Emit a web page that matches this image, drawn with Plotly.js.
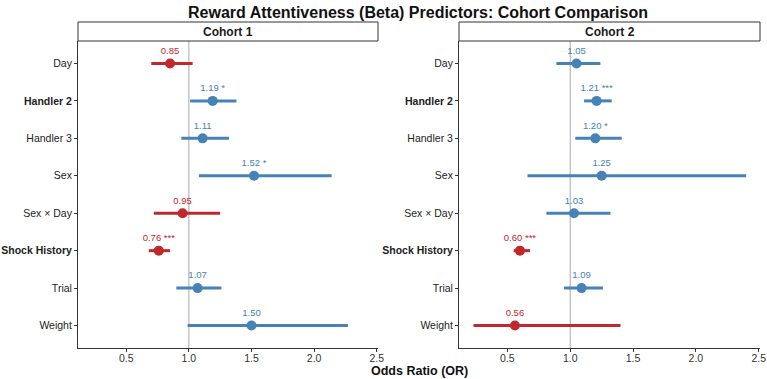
<!DOCTYPE html>
<html>
<head>
<meta charset="utf-8">
<script src="https://cdn.plot.ly/plotly-3.0.1.min.js"></script>
<style>html,body{margin:0;padding:0;background:#fff;}#chart{width:767px;height:379px;}</style>
</head>
<body>
<div id="chart"></div>
<script>
const terms = ['Day', 'Handler 2', 'Handler 3', 'Sex', 'Sex × Day', 'Shock History', 'Trial', 'Weight'];
const boldTerms = ['Handler 2', 'Shock History'];
const cohorts = ['Cohort 1', 'Cohort 2'];

const c1OR  = [0.85, 1.19, 1.11, 1.52, 0.95, 0.76, 1.07, 1.50];
const c1Lo  = [0.70, 1.01, 0.94, 1.08, 0.72, 0.68, 0.90, 0.99];
const c1Hi  = [1.03, 1.38, 1.32, 2.14, 1.25, 0.85, 1.26, 2.27];
const c1Sig = ['', '*', '', '*', '', '***', '', ''];

const c2OR  = [1.05, 1.21, 1.20, 1.25, 1.03, 0.60, 1.09, 0.56];
const c2Lo  = [0.89, 1.11, 1.04, 0.66, 0.81, 0.55, 0.95, 0.23];
const c2Hi  = [1.24, 1.33, 1.41, 2.40, 1.32, 0.68, 1.26, 1.40];
const c2Sig = ['', '***', '*', '', '', '***', '', ''];

const xTicks = [0.5, 1.0, 1.5, 2.0, 2.5];
const refLine = 1;

const RED = '#C0282D';
const BLUE = '#4682B4';
const FONT = 'Liberation Sans, Arial, sans-serif';

const W = 767, H = 379;
const panels = [
  {OR: c1OR, lo: c1Lo, hi: c1Hi, sig: c1Sig, xa: 'x', ya: 'y', x0: 78, x1: 378},
  {OR: c2OR, lo: c2Lo, hi: c2Hi, sig: c2Sig, xa: 'x2', ya: 'y2', x0: 459, x1: 760}
];
const panelTop = 41, panelBot = 348, stripTop = 22;

const traces = [];
panels.forEach(p => {
  [[RED, v => v < 1], [BLUE, v => v >= 1]].forEach(([col, test]) => {
    const idx = p.OR.map((v, i) => i).filter(i => test(p.OR[i]));
    traces.push({
      type: 'scatter', mode: 'markers+text',
      xaxis: p.xa, yaxis: p.ya,
      x: idx.map(i => p.OR[i]),
      y: idx.map(i => terms[i]),
      error_x: {type: 'data', symmetric: false,
        array: idx.map(i => p.hi[i] - p.OR[i]),
        arrayminus: idx.map(i => p.OR[i] - p.lo[i]),
        color: col, thickness: 3, width: 0},
      marker: {color: col, size: 10},
      text: idx.map(i => p.OR[i].toFixed(2) + (p.sig[i] ? ' ' + p.sig[i] : '')),
      textposition: 'top center',
      textfont: {family: FONT, size: 9.5, color: col},
      hoverinfo: 'skip', showlegend: false, cliponaxis: false
    });
  });
});

const yDom = [(H - panelBot) / H, (H - panelTop) / H];
const tickText = terms.map(t => boldTerms.includes(t) ? '<b>' + t + '</b>' : t);
function xAxis(p, anchor) {
  return {domain: [p.x0 / W, p.x1 / W], anchor: anchor, range: [0.115, 2.51],
    tickvals: xTicks, ticktext: xTicks.map(v => v.toFixed(1)), ticks: 'outside', ticklen: 3, tickcolor: '#333',
    ticklabelstandoff: -3,
    showline: true, linecolor: '#333', linewidth: 1, showgrid: false, zeroline: false,
    tickfont: {family: FONT, size: 10.5, color: '#333'}};
}
function yAxis(anchor) {
  return {domain: yDom, anchor: anchor, type: 'category', categoryorder: 'array', categoryarray: terms,
    range: [terms.length - 0.4, -0.6], tickvals: terms, ticktext: tickText,
    ticks: 'outside', ticklen: 3, tickcolor: '#333',
    showline: true, linecolor: '#333', linewidth: 1, showgrid: false, zeroline: false,
    tickfont: {family: FONT, size: 10.5, color: '#222'}};
}

const shapes = [], annotations = [];
panels.forEach((p, k) => {
  shapes.push({type: 'line', xref: p.xa, yref: p.ya + ' domain', x0: refLine, x1: refLine, y0: 0, y1: 1,
    line: {color: '#AAAAAA', width: 1}, layer: 'below'});
  shapes.push({type: 'rect', xref: 'paper', yref: 'paper', x0: p.x0 / W, x1: p.x1 / W,
    y0: (H - panelTop) / H, y1: (H - stripTop) / H, fillcolor: '#fff', line: {color: '#333', width: 1}});
  annotations.push({xref: 'paper', yref: 'paper', x: (p.x0 + p.x1) / 2 / W, y: (H - (panelTop + stripTop) / 2) / H,
    text: '<b>' + cohorts[k] + '</b>', showarrow: false, xanchor: 'center', yanchor: 'middle',
    font: {family: FONT, size: 12, color: '#1a1a1a'}});
});
annotations.push({xref: 'paper', yref: 'paper', x: 419 / W, y: (H - 371) / H,
  text: '<b>Odds Ratio (OR)</b>', showarrow: false, xanchor: 'center', yanchor: 'middle',
  font: {family: FONT, size: 12.5, color: '#111'}});

const layout = {
  width: W, height: H, margin: {l: 0, r: 0, t: 0, b: 0},
  paper_bgcolor: '#fff', plot_bgcolor: '#fff',
  title: {text: '<b>Reward Attentiveness (Beta) Predictors: Cohort Comparison</b>',
    x: 418 / W, xanchor: 'center', y: 1 - 12 / H, yanchor: 'middle', yref: 'paper',
    font: {family: FONT, size: 16, color: '#111'}},
  xaxis: xAxis(panels[0], 'y'), xaxis2: xAxis(panels[1], 'y2'),
  yaxis: yAxis('x'), yaxis2: yAxis('x2'),
  shapes: shapes, annotations: annotations, showlegend: false
};

Plotly.newPlot('chart', traces, layout, {staticPlot: true, displayModeBar: false});
</script>
</body>
</html>
